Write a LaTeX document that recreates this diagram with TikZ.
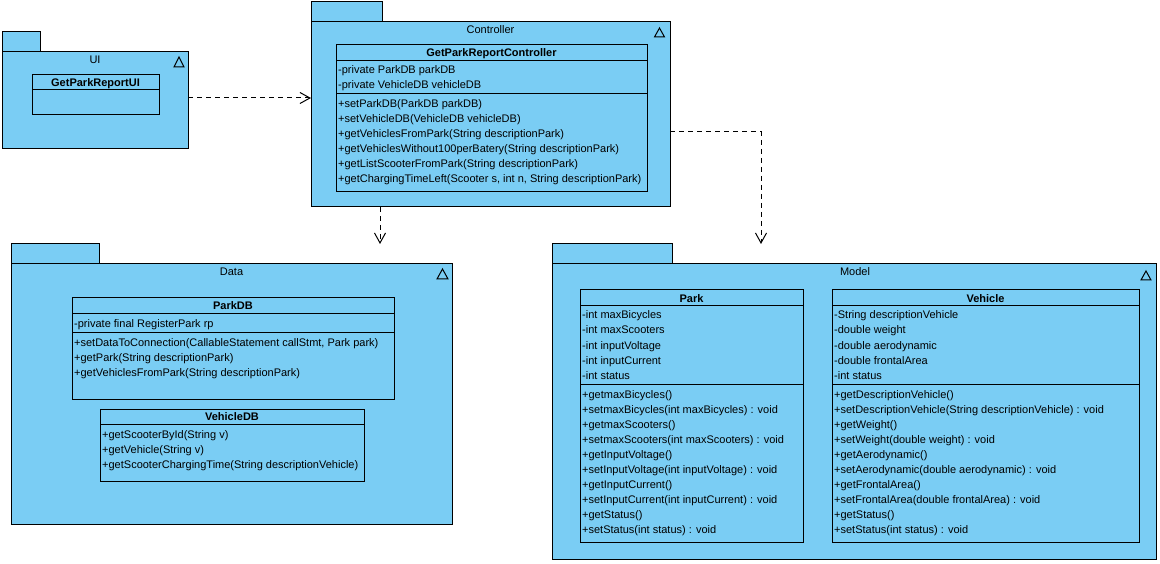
\documentclass[tikz,border=0pt]{standalone}
\usepackage{fontspec}
\newfontfamily\vpfont{Liberation Sans}
\usetikzlibrary{arrows.meta}
\definecolor{vpblue}{RGB}{122,205,244}
\begin{document}
\begin{tikzpicture}[x=1pt,y=-1pt,
  box/.style={draw, fill=vpblue, line width=1pt, inner sep=0pt, outer sep=0pt, anchor=north west, rectangle},
  txt/.style={anchor=base west, yshift=-4pt, inner sep=0pt, font=\vpfont\fontsize{11}{13}\selectfont},
  ttl/.style={anchor=base, yshift=-4pt, inner sep=0pt, font=\vpfont\fontsize{11}{13}\selectfont},
  cname/.style={anchor=base, yshift=-4pt, inner sep=0pt, font=\vpfont\bfseries\fontsize{11}{13}\selectfont},
  dep/.style={draw, line width=1pt, dash pattern=on 5pt off 4pt, -{Straight Barb[length=10pt,width=11pt,line width=1pt]}},
  tri/.style={draw, line width=1pt}]
\useasboundingbox (0,0) rectangle (1160,564);
\fill[white] (0,0) rectangle (1160,564);

% ---------------- UI package
\node[box, minimum width=38pt, minimum height=20pt] (uitab) at (2,32) {};
\node[box, minimum width=186pt, minimum height=97pt] (uibody) at (2,52) {};
\node[ttl] (uilbl) at (95,60) {UI};
\draw[tri] (179,57) -- (184,67) -- (174,67) -- cycle;
\node[box, minimum width=127pt, minimum height=15pt] (uih) at (32,75) {};
\node[cname] (uin) at (uih.center) {GetParkReportUI};
\node[box, minimum width=127pt, minimum height=25pt] (uib) at (32,90) {};

% ---------------- Controller package
\node[box, minimum width=71pt, minimum height=20pt] (ctab) at (311,2) {};
\node[box, minimum width=359pt, minimum height=185pt] (cbody) at (311,22) {};
\node[ttl] (clbl) at (490.5,30) {Controller};
\draw[tri] (659.5,28) -- (664.5,37) -- (654.5,37) -- cycle;
\node[box, minimum width=311pt, minimum height=16pt] (ch) at (336,45) {};
\node[cname] (cn) at (ch.center) {GetParkReportController};
\node[box, minimum width=311pt, minimum height=33pt] (ca) at (336,61) {};
\node[box, minimum width=311pt, minimum height=98pt] (co) at (336,94) {};
\node[txt] (ca1) at (338,70) {-private ParkDB parkDB};
\node[txt] (ca2) at (338,85) {-private VehicleDB vehicleDB};
\node[txt] (co1) at (338,104) {+setParkDB(ParkDB parkDB)};
\node[txt] (co2) at (338,119) {+setVehicleDB(VehicleDB vehicleDB)};
\node[txt] (co3) at (338,134) {+getVehiclesFromPark(String descriptionPark)};
\node[txt] (co4) at (338,149) {+getVehiclesWithout100perBatery(String descriptionPark)};
\node[txt] (co5) at (338,164) {+getListScooterFromPark(String descriptionPark)};
\node[txt] (co6) at (338,179) {+getChargingTimeLeft(Scooter s, int n, String descriptionPark)};

% ---------------- Data package
\node[box, minimum width=88pt, minimum height=20pt] (dtab) at (11,244) {};
\node[box, minimum width=441pt, minimum height=260pt] (dbody) at (11,264) {};
\node[ttl] (dlbl) at (231.5,272) {Data};
\draw[tri] (442.5,269) -- (448,279) -- (437,279) -- cycle;
\node[box, minimum width=322pt, minimum height=15pt] (pdbh) at (72,298) {};
\node[cname] (pdbn) at (pdbh.center) {ParkDB};
\node[box, minimum width=322pt, minimum height=19pt] (pdba) at (72,313) {};
\node[box, minimum width=322pt, minimum height=67pt] (pdbo) at (72,332) {};
\node[txt] (pdba1) at (74,323) {-private final RegisterPark rp};
\node[txt] (pdbo1) at (74,342) {+setDataToConnection(CallableStatement callStmt, Park park)};
\node[txt] (pdbo2) at (74,357) {+getPark(String descriptionPark)};
\node[txt] (pdbo3) at (74,372) {+getVehiclesFromPark(String descriptionPark)};
\node[box, minimum width=264pt, minimum height=15pt] (vdbh) at (100,409) {};
\node[cname] (vdbn) at (vdbh.center) {VehicleDB};
\node[box, minimum width=264pt, minimum height=57pt] (vdbo) at (100,424) {};
\node[txt] (vdbo1) at (102,434) {+getScooterById(String v)};
\node[txt] (vdbo2) at (102,449) {+getVehicle(String v)};
\node[txt] (vdbo3) at (102,464) {+getScooterChargingTime(String descriptionVehicle)};

% ---------------- Model package
\node[box, minimum width=120pt, minimum height=20pt] (mtab) at (552,244) {};
\node[box, minimum width=604pt, minimum height=295pt] (mbody) at (552,264) {};
\node[ttl] (mlbl) at (855,272) {Model};
\draw[tri] (1146,271) -- (1151,280) -- (1141,280) -- cycle;
% Park
\node[box, minimum width=223pt, minimum height=16pt] (ph) at (580,290) {};
\node[cname] (pn) at (ph.center) {Park};
\node[box, minimum width=223pt, minimum height=78pt] (pa) at (580,306) {};
\node[box, minimum width=223pt, minimum height=158pt] (po) at (580,384) {};
\node[txt] (pa1) at (582,315) {-int maxBicycles};
\node[txt] (pa2) at (582,330) {-int maxScooters};
\node[txt] (pa3) at (582,345) {-int inputVoltage};
\node[txt] (pa4) at (582,360) {-int inputCurrent};
\node[txt] (pa5) at (582,375) {-int status};
\node[txt] (po1) at (582,394) {+getmaxBicycles()};
\node[txt] (po2) at (582,409) {+setmaxBicycles(int maxBicycles) : void};
\node[txt] (po3) at (582,424) {+getmaxScooters()};
\node[txt] (po4) at (582,439) {+setmaxScooters(int maxScooters) : void};
\node[txt] (po5) at (582,454) {+getInputVoltage()};
\node[txt] (po6) at (582,469) {+setInputVoltage(int inputVoltage) : void};
\node[txt] (po7) at (582,484) {+getInputCurrent()};
\node[txt] (po8) at (582,499) {+setInputCurrent(int inputCurrent) : void};
\node[txt] (po9) at (582,514) {+getStatus()};
\node[txt] (po10) at (582,529) {+setStatus(int status) : void};
% Vehicle
\node[box, minimum width=307pt, minimum height=16pt] (vh) at (832,290) {};
\node[cname] (vn) at (vh.center) {Vehicle};
\node[box, minimum width=307pt, minimum height=78pt] (va) at (832,306) {};
\node[box, minimum width=307pt, minimum height=158pt] (vo) at (832,384) {};
\node[txt] (va1) at (834,315) {-String descriptionVehicle};
\node[txt] (va2) at (834,330) {-double weight};
\node[txt] (va3) at (834,345) {-double aerodynamic};
\node[txt] (va4) at (834,360) {-double frontalArea};
\node[txt] (va5) at (834,375) {-int status};
\node[txt] (vo1) at (834,394) {+getDescriptionVehicle()};
\node[txt] (vo2) at (834,409) {+setDescriptionVehicle(String descriptionVehicle) : void};
\node[txt] (vo3) at (834,424) {+getWeight()};
\node[txt] (vo4) at (834,439) {+setWeight(double weight) : void};
\node[txt] (vo5) at (834,454) {+getAerodynamic()};
\node[txt] (vo6) at (834,469) {+setAerodynamic(double aerodynamic) : void};
\node[txt] (vo7) at (834,484) {+getFrontalArea()};
\node[txt] (vo8) at (834,499) {+setFrontalArea(double frontalArea) : void};
\node[txt] (vo9) at (834,514) {+getStatus()};
\node[txt] (vo10) at (834,529) {+setStatus(int status) : void};

% ---------------- Dependencies
\coordinate (ctrlin) at (311,98);
\coordinate (datatop) at (380,244);
\coordinate (mbend) at (761,132);
\coordinate (modeltop) at (761,244);
\draw[dep] (uibody.east |- ctrlin) -- (ctrlin);
\draw[dep] (cbody.south -| datatop) -- (datatop);
\draw[dep] (cbody.east |- mbend) -- (mbend) -- (modeltop);
\end{tikzpicture}
\end{document}
